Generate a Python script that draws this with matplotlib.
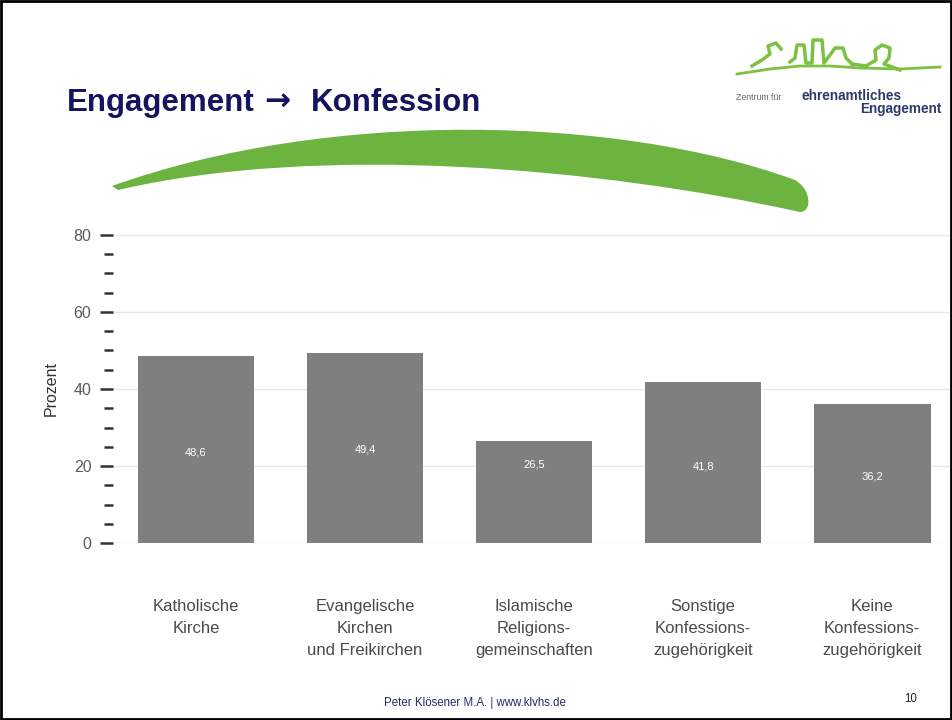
import matplotlib.pyplot as plt
from matplotlib.patches import PathPatch, Rectangle
from matplotlib.path import Path
from matplotlib.ticker import MultipleLocator

plt.rcParams["font.family"] = ["Liberation Sans", "DejaVu Sans"]

# === Data ===
categories = ["Katholische\nKirche",
              "Evangelische\nKirchen\nund Freikirchen",
              "Islamische\nReligions-\ngemeinschaften",
              "Sonstige\nKonfessions-\nzugehörigkeit",
              "Keine\nKonfessions-\nzugehörigkeit"]
values = [48.6, 49.4, 26.5, 41.8, 36.2]
value_labels = ["48,6", "49,4", "26,5", "41,8", "36,2"]

W, H = 953, 720
fig = plt.figure(figsize=(W / 100, H / 100), dpi=100)
fig.patch.set_facecolor("white")


def px(x, y):
    # pixel (from top-left) -> figure fraction
    return x / W, 1 - y / H


# === Axes ===
x0, y0 = px(113, 543)
x1, y1 = px(950, 235)
ax = fig.add_axes([x0, y0, x1 - x0, y1 - y0])
pos = list(range(len(values)))
ax.bar(pos, values, width=0.69, color="#7f7f7f", zorder=2)
ax.set_xlim(-0.49, 4.46)
ax.set_ylim(0, 80)
for s in ax.spines.values():
    s.set_visible(False)
ax.yaxis.set_major_locator(MultipleLocator(20))
ax.yaxis.set_minor_locator(MultipleLocator(5))
ax.tick_params(axis="y", which="major", length=9.5, width=1.8, color="#333333",
               labelsize=11.5, labelcolor="#5a5a5a", pad=6)
ax.tick_params(axis="y", which="minor", length=6.5, width=1.8, color="#333333")
ax.grid(axis="y", which="major", color="#e8e8e8", lw=1, zorder=0)
ax.set_xticks(pos)
ax.set_xticklabels(categories, fontsize=12, color="#4a4a4a", linespacing=1.6)
ax.tick_params(axis="x", length=0, pad=40)
ax.set_ylabel("Prozent", fontsize=11.5, color="#333333", labelpad=11)

# value labels inside bars (heights as placed in the original)
label_y = [23.6, 24.2, 20.3, 19.8, 17.4]
for p, ly, t in zip(pos, label_y, value_labels):
    ax.text(p, ly, t, color="white", fontsize=8, ha="center", va="center", zorder=3)

# === Title ===
navy = "#15155f"
for x, txt, fam in [(67, "Engagement", None), (264, "\u2192", "DejaVu Sans"),
                    (311, "Konfession", None)]:
    a, b = px(x, 111)
    fig.text(a, b, txt, fontsize=22.5, fontweight="bold", color=navy,
             va="baseline", family=fam if fam else None)

# === Green swoosh ===
pts = [(112, 186), (330, 108), (620, 116), (795, 180),
       (812, 190), (812, 212), (800, 212),
       (600, 168), (320, 143), (118, 190),
       (112, 186)]
codes = [Path.MOVETO, Path.CURVE4, Path.CURVE4, Path.CURVE4,
         Path.CURVE4, Path.CURVE4, Path.CURVE4,
         Path.CURVE4, Path.CURVE4, Path.CURVE4,
         Path.CLOSEPOLY]
swoosh = Path([px(*p) for p in pts], codes)
fig.patches.append(PathPatch(swoosh, transform=fig.transFigure,
                             facecolor="#6db33f", edgecolor="none"))

# === Logo (approximation) ===
green = "#7cc242"


def fline(points, **kw):
    fig.add_artist(plt.Line2D([px(*p)[0] for p in points], [px(*p)[1] for p in points],
                              transform=fig.transFigure, color=green, **kw))


fline([(737, 74), (770, 69), (800, 66), (830, 66), (860, 68), (900, 69), (940, 67)], lw=2)
fline([(752, 66), (762, 60), (770, 54), (768, 46), (776, 43), (781, 49)], lw=2.5)
fline([(790, 62), (795, 58), (797, 45), (804, 45), (806, 63), (812, 63), (813, 40),
       (822, 40), (824, 63), (830, 55), (835, 48), (843, 48), (846, 58), (852, 64)], lw=2.5)
fline([(852, 64), (866, 66), (876, 60), (875, 50), (882, 45), (890, 48), (889, 58),
       (884, 64), (900, 70)], lw=2.5)
a, b = px(736, 100)
fig.text(a, b, "Zentrum für", fontsize=6.3, color="#666666", va="baseline")
a, b = px(802, 100)
fig.text(a, b, "ehrenamtliches", fontsize=9.8, fontweight="bold", color="#2d3b6b",
         va="baseline")
a, b = px(942, 113)
fig.text(a, b, "Engagement", fontsize=9.8, fontweight="bold", color="#2d3b6b",
         va="baseline", ha="right")

# === Footer ===
a, b = px(475, 703)
fig.text(a, b, "Peter Klösener M.A. | www.klvhs.de", fontsize=8.3, color="#1f2a6b",
         ha="center", va="center")
a, b = px(911, 699)
fig.text(a, b, "10", fontsize=8.3, color="#222222", ha="center", va="center")

# slide border
fig.patches.append(Rectangle((0.001, 0.001), 0.997, 0.997, transform=fig.transFigure,
                             fill=False, edgecolor="black", lw=2))

fig.savefig("out.png", dpi=100)
